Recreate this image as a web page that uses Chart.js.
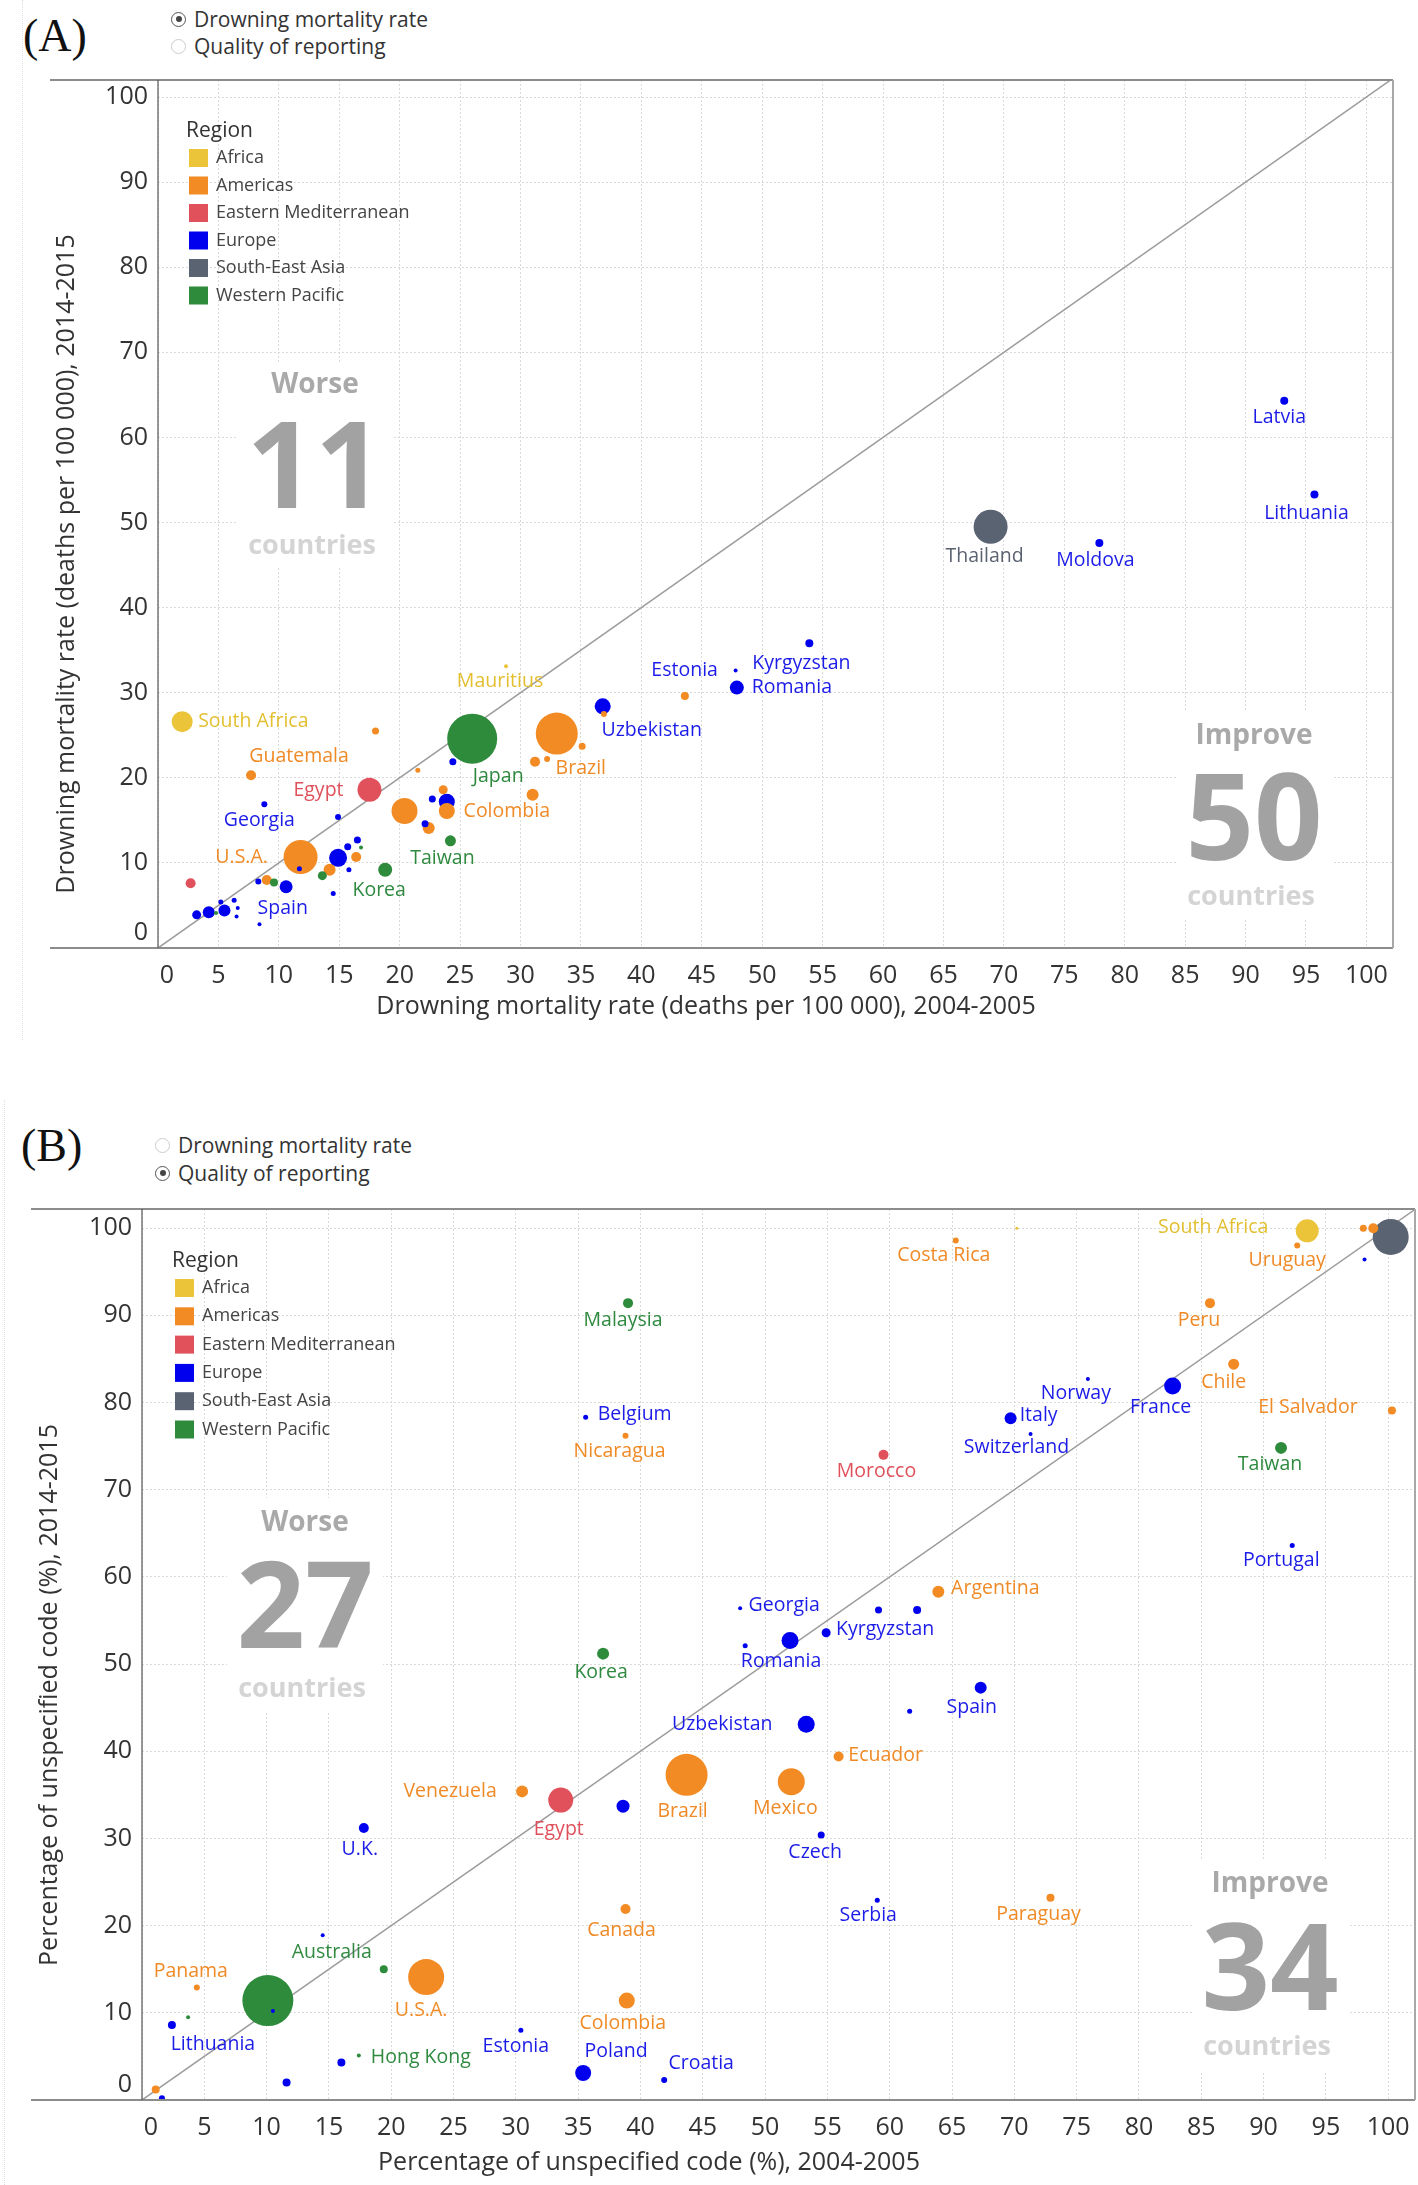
<!DOCTYPE html>
<html>
<head>
<meta charset="utf-8">
<script src="https://cdn.jsdelivr.net/npm/chart.js@4.4.1/dist/chart.umd.min.js"></script>
<style>
  body { margin: 0; background: #fff; width: 1418px; height: 2185px; position: relative; overflow: hidden; font-family: "Open Sans", sans-serif; }
  canvas { position: absolute; left: 0; }
  .tag { position: absolute; font-family: "Liberation Serif", serif; font-size: 46px; line-height: 46px; color: #111; }
  .opt { position: absolute; height: 22px; display: flex; align-items: center; font-size: 21px; color: #333; white-space: nowrap; }
  .rb { width: 13px; height: 13px; border: 1px solid #ccc; border-radius: 50%; margin-right: 8px; position: relative; box-sizing: content-box; }
  .rb.on { border-color: #555; }
  .rb.on::after { content: ""; position: absolute; left: 3.5px; top: 3.5px; width: 6px; height: 6px; border-radius: 50%; background: #444; }
  .sheet { position: absolute; width: 0; border-left: 1px dotted #ddd; }
</style>
</head>
<body>
<div class="sheet" style="left:22px;top:0;height:1040px"></div>
<div class="sheet" style="left:4px;top:1100px;height:1085px"></div>

<div class="tag" style="left:23px;top:13px">(A)</div>
<div class="opt" style="left:171px;top:8px"><span class="rb on"></span>Drowning mortality rate</div>
<div class="opt" style="left:171px;top:35px"><span class="rb"></span>Quality of reporting</div>
<canvas id="chartA" width="1418" height="1040" style="top:0"></canvas>

<div class="tag" style="left:21px;top:1123px">(B)</div>
<div class="opt" style="left:155px;top:1134px"><span class="rb"></span>Drowning mortality rate</div>
<div class="opt" style="left:155px;top:1162px"><span class="rb on"></span>Quality of reporting</div>
<canvas id="chartB" width="1418" height="1085" style="top:1100px"></canvas>

<script>
// --- DATA ---
const regions = ['Africa', 'Americas', 'Eastern Mediterranean', 'Europe', 'South-East Asia', 'Western Pacific'];

// (A) drowning mortality rate, deaths per 100 000
const countryA = ['South Africa', '', 'Guatemala', '', 'Egypt', 'Georgia', '', 'U.S.A.', '', '',
                  '', '', 'Japan', 'Brazil', '', '', '', 'Uzbekistan', '', '',
                  'Mauritius', '', '', '', 'Colombia', '', '', '', 'Taiwan', 'Korea',
                  '', '', '', '', '', '', '', '', '', '',
                  '', '', '', '', '', '', '', '', '', '',
                  'Spain', '', 'Thailand', 'Moldova', 'Latvia', 'Lithuania', 'Kyrgyzstan', 'Estonia', 'Romania'];
const regionA  = [0, 1, 1, 2, 2, 3, 3, 1, 3, 1,
                  1, 3, 5, 1, 1, 1, 1, 3, 1, 1,
                  0, 1, 3, 3, 1, 1, 3, 1, 5, 5,
                  3, 3, 3, 5, 1, 3, 1, 5, 3, 3,
                  1, 5, 3, 3, 3, 3, 3, 5, 3, 3,
                  3, 3, 4, 3, 3, 3, 3, 3, 3];
const rate2004 = [2.0, 18.0, 7.7, 2.7, 17.5, 8.8, 14.9, 11.8, 11.7, 20.4,
                  21.5, 24.4, 26.0, 33.0, 31.2, 32.2, 35.1, 36.8, 36.9, 43.6,
                  28.8, 23.6, 22.7, 23.9, 23.9, 31.0, 22.1, 22.4, 24.2, 18.8,
                  14.9, 15.7, 16.5, 16.8, 16.4, 15.8, 14.2, 13.6, 14.5, 10.6,
                  9.0, 9.6, 8.3, 8.4, 5.5, 4.2, 3.2, 4.8, 5.2, 6.3,
                  6.6, 6.5, 68.9, 77.9, 93.2, 95.7, 53.9, 47.8, 47.9];
const rate2014 = [26.6, 25.5, 20.3, 7.6, 18.6, 16.9, 15.4, 10.7, 9.3, 16.1,
                  20.9, 21.9, 24.6, 25.2, 21.9, 22.2, 23.7, 28.4, 27.5, 29.6,
                  33.1, 18.6, 17.5, 17.2, 16.1, 18.0, 14.6, 14.1, 12.6, 9.2,
                  10.6, 11.9, 12.7, 11.8, 10.7, 9.2, 9.2, 8.5, 6.4, 7.2,
                  8.0, 7.7, 7.8, 2.8, 4.4, 4.2, 3.9, 4.1, 5.4, 5.6,
                  4.7, 3.7, 49.5, 47.6, 64.3, 53.3, 35.8, 32.6, 30.6];
const sizeA    = [10.5, 3.5, 5, 5, 12, 3, 3, 17, 2.5, 13,
                  2.5, 3.5, 25, 21, 5, 3, 3.5, 8, 3, 4,
                  2, 4.5, 3.5, 8, 8, 6, 3.5, 6, 5.5, 7,
                  9, 3.5, 3.5, 2, 5, 2.5, 6, 4.5, 2.5, 6.5,
                  5, 4, 3, 2, 6, 6, 4.5, 2, 2.5, 2.5,
                  2, 2, 17, 4, 4, 4, 4, 2, 7];

// (B) percentage of unspecified code
const countryB = ['', '', 'Lithuania', '', 'Panama', '', '', '', 'Australia', 'U.S.A.',
                  'U.K.', '', 'Hong Kong', '', 'Estonia', 'Poland', 'Croatia', 'Colombia', 'Canada', 'Venezuela',
                  'Egypt', '', 'Brazil', 'Mexico', 'Ecuador', 'Czech', 'Serbia', 'Paraguay', 'Uzbekistan', '',
                  'Spain', 'Romania', '', 'Kyrgyzstan', '', '', 'Georgia', 'Argentina', 'Korea', 'Portugal',
                  'Morocco', 'Taiwan', 'Switzerland', 'Italy', 'Norway', 'France', 'Chile', 'El Salvador', 'Peru', 'Belgium',
                  'Nicaragua', 'Malaysia', 'Costa Rica', '', 'South Africa', 'Uruguay', '', '', '', ''];
const regionB  = [1, 3, 3, 5, 1, 5, 3, 3, 5, 1,
                  3, 3, 5, 3, 3, 3, 3, 1, 1, 1,
                  2, 3, 1, 1, 1, 3, 3, 1, 3, 3,
                  3, 3, 3, 3, 3, 3, 3, 1, 5, 3,
                  2, 5, 3, 3, 3, 3, 1, 1, 1, 3,
                  1, 5, 1, 0, 0, 1, 1, 1, 4, 3];
const pct2004  = [1.1, 1.6, 2.4, 3.7, 4.4, 10.1, 10.5, 14.5, 19.4, 22.8,
                  17.8, 16.0, 17.4, 11.6, 30.4, 35.4, 41.9, 38.9, 38.8, 30.5,
                  33.6, 38.6, 43.7, 52.1, 55.9, 54.5, 59.0, 72.9, 53.3, 61.6,
                  67.3, 52.0, 48.4, 54.9, 59.1, 62.2, 48.0, 63.9, 37.0, 92.3,
                  59.5, 91.4, 71.3, 69.7, 75.9, 82.7, 87.6, 100.3, 85.7, 35.6,
                  38.8, 39.0, 65.3, 70.2, 93.5, 92.7, 98.0, 98.8, 100.2, 98.1];
const pct2014  = [1.2, 0.2, 8.6, 9.5, 12.9, 11.4, 10.2, 18.9, 15.0, 14.1,
                  31.2, 4.3, 5.1, 2.0, 8.0, 3.1, 2.3, 11.4, 21.9, 35.4,
                  34.4, 33.7, 37.3, 36.5, 39.4, 30.4, 22.9, 23.2, 43.1, 44.6,
                  47.3, 52.7, 52.1, 53.6, 56.2, 56.2, 56.4, 58.3, 51.2, 63.6,
                  74.0, 74.8, 76.4, 78.2, 82.7, 81.9, 84.4, 79.1, 91.4, 78.3,
                  76.2, 91.4, 98.6, 100.0, 99.7, 98.0, 100.0, 100.0, 99.0, 96.4];
const sizeB    = [4, 3, 4, 2, 3, 25.5, 2, 2, 4, 18,
                  5, 4, 2, 4, 2.5, 8, 3, 8, 5, 6,
                  12.5, 6.5, 21, 13.5, 5, 3.5, 2.5, 4, 8.5, 2.5,
                  6, 8.5, 2.5, 4.5, 3.5, 4, 2, 6, 6, 2.5,
                  5, 6, 2, 6, 2, 8.5, 5.5, 4, 5, 2.5,
                  3, 5, 3, 1.5, 11.5, 3, 3.5, 5, 18, 2];

const countsA = { worse: 11, improve: 50 };
const countsB = { worse: 27, improve: 34 };

// --- STYLE / LAYOUT ---
const regionColors = ['#ebc43a', '#f28b24', '#e0515b', '#0000ee', '#5a6372', '#2e8b3c'];
const labelColors  = ['#e3bf30', '#f08a26', '#e0505a', '#1c1ce8', '#5a6270', '#2f8a40'];
const FONT = '"Open Sans", sans-serif';

// label offsets from the point centre, in px
const labelPosA = {
  'South Africa': [16, 0, 'left'], 'Guatemala': [48, -19], 'Egypt': [-51, 1], 'Georgia': [-5, 16],
  'U.S.A.': [-59, 0], 'Spain': [45, 0], 'Korea': [-6, 21], 'Taiwan': [-8, 18], 'Colombia': [60, 0],
  'Japan': [26, 38], 'Brazil': [24, 35], 'Uzbekistan': [49, 24], 'Mauritius': [-6, 15],
  'Estonia': [-51, 0], 'Kyrgyzstan': [-8, 20], 'Romania': [55, 0], 'Thailand': [-6, 30],
  'Moldova': [-4, 18], 'Latvia': [-5, 17], 'Lithuania': [-8, 19]
};
const labelPosB = {
  'South Africa': [-94, -3], 'Uruguay': [-10, 15], 'Costa Rica': [-12, 15], 'Peru': [-11, 17],
  'Malaysia': [-5, 17], 'Norway': [-12, 14], 'Chile': [-10, 18], 'France': [-12, 21], 'Italy': [28, -3],
  'El Salvador': [-84, -3], 'Switzerland': [-14, 14], 'Taiwan': [-11, 17], 'Morocco': [-7, 17],
  'Portugal': [-11, 15], 'Argentina': [57, -3], 'Georgia': [44, -3], 'Kyrgyzstan': [59, -3],
  'Romania': [-9, 21], 'Spain': [-9, 20], 'Uzbekistan': [-84, 0], 'Korea': [-2, 19],
  'Belgium': [49, -3], 'Nicaragua': [-6, 16], 'Ecuador': [47, -1], 'Mexico': [-6, 27],
  'Czech': [-6, 17], 'Serbia': [-9, 15], 'Paraguay': [-12, 17], 'Venezuela': [-72, 0],
  'Egypt': [-2, 29], 'Brazil': [-4, 37], 'U.K.': [-4, 21], 'Canada': [-4, 21], 'Australia': [-52, -17],
  'Panama': [-6, -16], 'U.S.A.': [-5, 33], 'Colombia': [-4, 23], 'Lithuania': [41, 19],
  'Estonia': [-5, 16], 'Poland': [33, -22], 'Hong Kong': [62, 2], 'Croatia': [37, -17]
};

const panelA = {
  canvas: 'chartA', height: 1040, area: { left: 158, right: 1393, top: 80, bottom: 948 },
  xMax: 102.2, yMax: 102.0, frameLeft: 50,
  countries: countryA, region: regionA, xs: rate2004, ys: rate2014, sizes: sizeA, labelPos: labelPosA,
  xTitle: 'Drowning mortality rate (deaths per 100 000), 2004-2005', xTitlePos: [706, 1007],
  yTitle: 'Drowning mortality rate (deaths per 100 000), 2014-2015', yTitlePos: [67, 564],
  tickPadX: 13,
  legend: { x: 189, titleY: 131, y0: 158, step: 27.5 },
  notes: [
    { word: 'Worse', n: countsA.worse, cx: 315, ys: [385, 474, 546], box: [237, 362, 156, 204] },
    { word: 'Improve', n: countsA.improve, cx: 1254, ys: [736, 826, 897], box: [1176, 712, 156, 206] }
  ]
};
const panelB = {
  canvas: 'chartB', height: 1085, area: { left: 142, right: 1415, top: 109, bottom: 1000 },
  xMax: 102.15, yMax: 102.2, frameLeft: 31,
  countries: countryB, region: regionB, xs: pct2004, ys: pct2014, sizes: sizeB, labelPos: labelPosB,
  xTitle: 'Percentage of unspecified code (%), 2004-2005', xTitlePos: [649, 1063],
  yTitle: 'Percentage of unspecified code (%), 2014-2015', yTitlePos: [50, 595],
  tickPadX: 13,
  legend: { x: 175, titleY: 161, y0: 188, step: 28.3 },
  notes: [
    { word: 'Worse', n: countsB.worse, cx: 305, ys: [423, 514, 589], box: [227, 398, 156, 214] },
    { word: 'Improve', n: countsB.improve, cx: 1270, ys: [784, 876, 947], box: [1192, 760, 156, 212] }
  ]
};

// --- PLUGIN: notes, diagonal, labels, frame, legend, titles ---
const overlay = {
  id: 'overlay',
  beforeDatasetsDraw(chart, args, p) {
    const { ctx, chartArea: a, scales: { x, y } } = chart;
    ctx.save();
    ctx.beginPath();
    ctx.rect(a.left, a.top, a.right - a.left, a.bottom - a.top);
    ctx.clip();
    ctx.textAlign = 'center';
    ctx.textBaseline = 'middle';
    p.notes.forEach(n => {
      ctx.fillStyle = '#fff';
      ctx.fillRect(n.box[0], n.box[1], n.box[2], n.box[3]);
      ctx.fillStyle = '#a9a9a9';
      ctx.font = 'bold 28px ' + FONT;
      ctx.fillText(n.word, n.cx, n.ys[0]);
      ctx.fillStyle = '#a2a2a2';
      ctx.font = 'bold 120px ' + FONT;
      ctx.fillText(String(n.n), n.cx, n.ys[1]);
      ctx.fillStyle = '#d4d4d4';
      ctx.font = 'bold 27px ' + FONT;
      ctx.fillText('countries', n.cx - 3, n.ys[2]);
    });
    // diagonal y = x
    ctx.strokeStyle = '#9c9c9c';
    ctx.lineWidth = 1.5;
    ctx.beginPath();
    ctx.moveTo(x.getPixelForValue(0), y.getPixelForValue(0));
    ctx.lineTo(x.getPixelForValue(x.max), y.getPixelForValue(x.max));
    ctx.stroke();
    ctx.restore();
  },
  afterDatasetsDraw(chart, args, p) {
    const { ctx, scales: { x, y } } = chart;
    ctx.save();
    ctx.font = '19.5px ' + FONT;
    ctx.textBaseline = 'middle';
    p.countries.forEach((name, i) => {
      if (!name) return;
      const pos = p.labelPos[name] || [0, 16];
      ctx.textAlign = pos[2] || 'center';
      ctx.fillStyle = labelColors[p.region[i]];
      ctx.fillText(name, x.getPixelForValue(p.xs[i]) + pos[0], y.getPixelForValue(p.ys[i]) + pos[1]);
    });
    ctx.restore();
  },
  afterDraw(chart, args, p) {
    const { ctx, chartArea: a, scales: { x, y } } = chart;
    ctx.save();
    // frame
    ctx.strokeStyle = '#8c8c8c';
    ctx.lineWidth = 2;
    ctx.beginPath();
    ctx.moveTo(p.frameLeft, a.top); ctx.lineTo(a.right, a.top);
    ctx.moveTo(p.frameLeft, a.bottom); ctx.lineTo(a.right, a.bottom);
    ctx.stroke();
    ctx.strokeStyle = '#a8a8a8';
    ctx.beginPath();
    ctx.moveTo(a.right, a.top); ctx.lineTo(a.right, a.bottom);
    ctx.stroke();
    ctx.strokeStyle = '#555';
    ctx.lineWidth = 1.2;
    ctx.beginPath();
    ctx.moveTo(a.left, a.top); ctx.lineTo(a.left, a.bottom);
    ctx.stroke();
    // zero tick labels sit inside the corner
    ctx.fillStyle = '#333';
    ctx.font = '25px ' + FONT;
    ctx.textBaseline = 'middle';
    ctx.textAlign = 'center';
    ctx.fillText('0', x.getPixelForValue(0) + 9, a.bottom + p.tickPadX + 15);
    ctx.textAlign = 'right';
    ctx.fillText('0', a.left - 10, y.getPixelForValue(0) - 15);
    // legend
    const L = p.legend;
    ctx.textAlign = 'left';
    ctx.fillStyle = '#333';
    ctx.font = '21px ' + FONT;
    ctx.fillText('Region', L.x - 3, L.titleY);
    ctx.font = '18px ' + FONT;
    regions.forEach((r, i) => {
      const cy = L.y0 + i * L.step;
      ctx.fillStyle = regionColors[i];
      ctx.fillRect(L.x, cy - 9, 19, 18);
      ctx.fillStyle = '#444';
      ctx.fillText(r, L.x + 27, cy);
    });
    // axis titles
    ctx.fillStyle = '#333';
    ctx.font = '25px ' + FONT;
    ctx.textAlign = 'center';
    ctx.fillText(p.xTitle, p.xTitlePos[0], p.xTitlePos[1]);
    ctx.translate(p.yTitlePos[0], p.yTitlePos[1]);
    ctx.rotate(-Math.PI / 2);
    ctx.fillText(p.yTitle, 0, 0);
    ctx.restore();
  }
};

const hideZero = v => (v === 0 ? '' : v);

function buildChart(p) {
  const points = p.xs.map((v, i) => ({ x: v, y: p.ys[i], r: p.sizes[i], reg: p.region[i] }))
    .sort((a, b) => b.r - a.r);
  const cv = document.getElementById(p.canvas);
  return new Chart(cv, {
    type: 'bubble',
    data: {
      datasets: [{
        data: points,
        backgroundColor: ctx => regionColors[ctx.raw ? ctx.raw.reg : 0],
        borderWidth: 0,
        hoverBorderWidth: 0
      }]
    },
    options: {
      responsive: false,
      animation: false,
      events: [],
      layout: { autoPadding: false, padding: { top: p.area.top, right: 1418 - p.area.right, left: 0, bottom: 0 } },
      plugins: { legend: { display: false }, tooltip: { enabled: false }, overlay: p },
      scales: {
        x: {
          type: 'linear', min: 0, max: p.xMax,
          afterFit: s => { s.height = p.height - p.area.bottom; s.paddingLeft = 0; s.paddingRight = 0; },
          ticks: { stepSize: 5, includeBounds: false, autoSkip: false, maxRotation: 0, padding: p.tickPadX,
                   color: '#333', font: { family: FONT, size: 25 }, callback: hideZero },
          grid: { color: '#dadada', lineWidth: 1, drawTicks: false },
          border: { display: false, dash: [2, 2] }
        },
        y: {
          type: 'linear', min: 0, max: p.yMax,
          afterFit: s => { s.width = p.area.left; s.paddingTop = 0; s.paddingBottom = 0; },
          ticks: { stepSize: 10, includeBounds: false, padding: 10,
                   color: '#333', font: { family: FONT, size: 25 }, callback: hideZero },
          grid: { color: '#dadada', lineWidth: 1, drawTicks: false },
          border: { display: false, dash: [2, 2] }
        }
      }
    },
    plugins: [overlay]
  });
}

buildChart(panelA);
buildChart(panelB);
</script>
</body>
</html>
